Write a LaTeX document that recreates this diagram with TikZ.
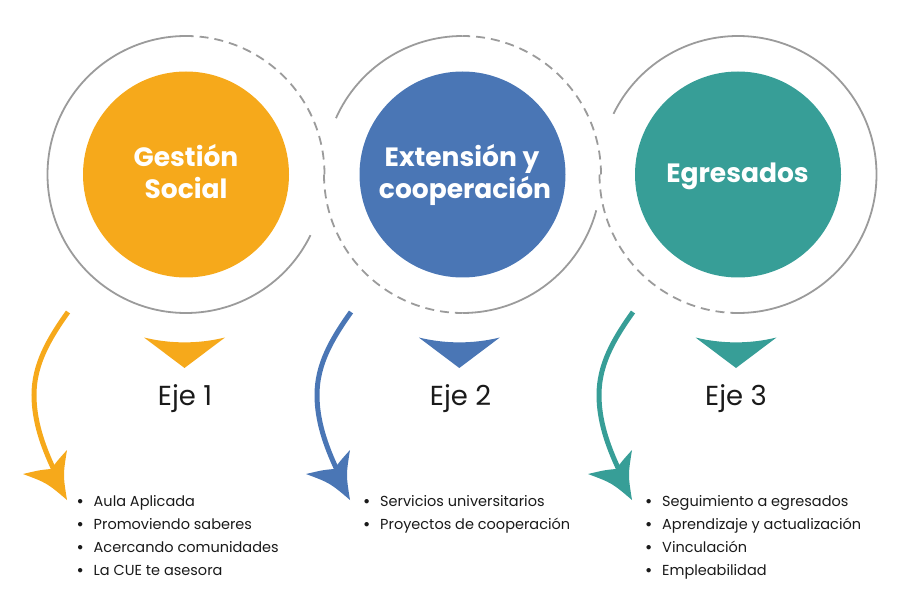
\documentclass[tikz,border=0pt]{standalone}
\usepackage{fontspec}
\setmainfont{Poppins}
\definecolor{cor}{RGB}{246,169,27}
\definecolor{cbl}{RGB}{74,118,181}
\definecolor{cte}{RGB}{55,158,151}
\definecolor{cgr}{RGB}{155,155,155}
\definecolor{ctx}{RGB}{26,26,26}
\newcommand{\axisarrow}[2]{%
\begin{scope}[xshift=#2pt]
\draw[#1,line width=5pt] (68,312) .. controls (48,340) and (34,365) .. (34,395) .. controls (34,420) and (42,445) .. (55,472);
\fill[#1] (23,474) .. controls (47,483) .. (67,500) .. controls (63,475) .. (67,450) .. controls (58,460) .. (51,469) .. controls (40,470) .. (23,474) -- cycle;
\end{scope}}
\newcommand{\downtri}[2]{%
\fill[#1] (#2-40.5,337.5) .. controls (#2-14,344) and (#2+14,344) .. (#2+40.5,337.5) -- (#2,368) -- cycle;}
\newcommand{\blt}{\makebox[17pt][l]{\bfseries •}}
\begin{document}
\begin{tikzpicture}[x=1pt,y=-1pt,
  ringsolid/.style={draw=cgr,line width=1.8pt},
  ringdash/.style={draw=cgr,line width=1.8pt,dash pattern=on 9pt off 6pt},
  disc/.style={circle,minimum size=206pt,inner sep=0pt,draw=none},
  disclabel/.style={text=white,font=\bfseries\fontsize{26.5}{30}\selectfont,anchor=base,inner sep=0pt},
  ejelabel/.style={text=ctx,font=\fontsize{27.5}{30}\selectfont,anchor=base,inner sep=0pt},
  listitem/.style={text=ctx,font=\fontsize{14.5}{20}\selectfont,anchor=base west,inner sep=0pt}]
\useasboundingbox (0,0) rectangle (900,604);
% discs
\node[disc,fill=cor] (g1) at (186,174.5) {};
\node[disc,fill=cbl] (g2) at (462.5,174.5) {};
\node[disc,fill=cte] (g3) at (738,174.5) {};
% ring 1
\draw[ringsolid] (g1.center) ++(-90:138.5) arc[start angle=-90,end angle=-334,radius=138.5];
\draw[ringdash] (g1.center) ++(0:138.5) arc[start angle=0,end angle=-90,radius=138.5];
% ring 2
\draw[ringsolid] (g2.center) ++(-90:138.5) arc[start angle=-90,end angle=-156,radius=138.5];
\draw[ringdash] (g2.center) ++(-180:138.5) arc[start angle=-180,end angle=-270,radius=138.5];
\draw[ringsolid] (g2.center) ++(-270:138.5) arc[start angle=-270,end angle=-345,radius=138.5];
\draw[ringdash] (g2.center) ++(0:138.5) arc[start angle=0,end angle=-90,radius=138.5];
% ring 3
\draw[ringdash] (g3.center) ++(-180:138.5) arc[start angle=-180,end angle=-270,radius=138.5];
\draw[ringsolid] (g3.center) ++(-270:138.5) arc[start angle=-270,end angle=-514,radius=138.5];
% disc labels
\node[disclabel] (t1a) at (186,167) {Gestión};
\node[disclabel] (t1b) at (186,199) {Social};
\node[disclabel] (t2a) at (462,166.7) {Extensión y};
\node[disclabel] (t2b) at (465,199) {cooperación};
\node[disclabel] (t3a) at (737.5,182.3) {Egresados};
% triangles
\downtri{cor}{184.5}
\downtri{cbl}{459.3}
\downtri{cte}{736}
% eje labels
\node[ejelabel] (e1) at (185,405) {Eje 1};
\node[ejelabel] (e2) at (460.5,405) {Eje 2};
\node[ejelabel] (e3) at (736,405) {Eje 3};
% arrows
\axisarrow{cor}{0}
\axisarrow{cbl}{283}
\axisarrow{cte}{565}
% lists
\node[listitem] (l1a) at (76.5,506.7) {\blt Aula Aplicada};
\node[listitem] (l1b) at (76.5,529.7) {\blt Promoviendo saberes};
\node[listitem] (l1c) at (76.5,552.7) {\blt Acercando comunidades};
\node[listitem] (l1d) at (76.5,575.7) {\blt La CUE te asesora};
\node[listitem] (l2a) at (363,506.7) {\blt Servicios universitarios};
\node[listitem] (l2b) at (363,529.7) {\blt Proyectos de cooperación};
\node[listitem] (l3a) at (645,506.7) {\blt Seguimiento a egresados};
\node[listitem] (l3b) at (645,529.7) {\blt Aprendizaje y actualización};
\node[listitem] (l3c) at (645,552.7) {\blt Vinculación};
\node[listitem] (l3d) at (645,575.7) {\blt Empleabilidad};
\end{tikzpicture}
\end{document}
